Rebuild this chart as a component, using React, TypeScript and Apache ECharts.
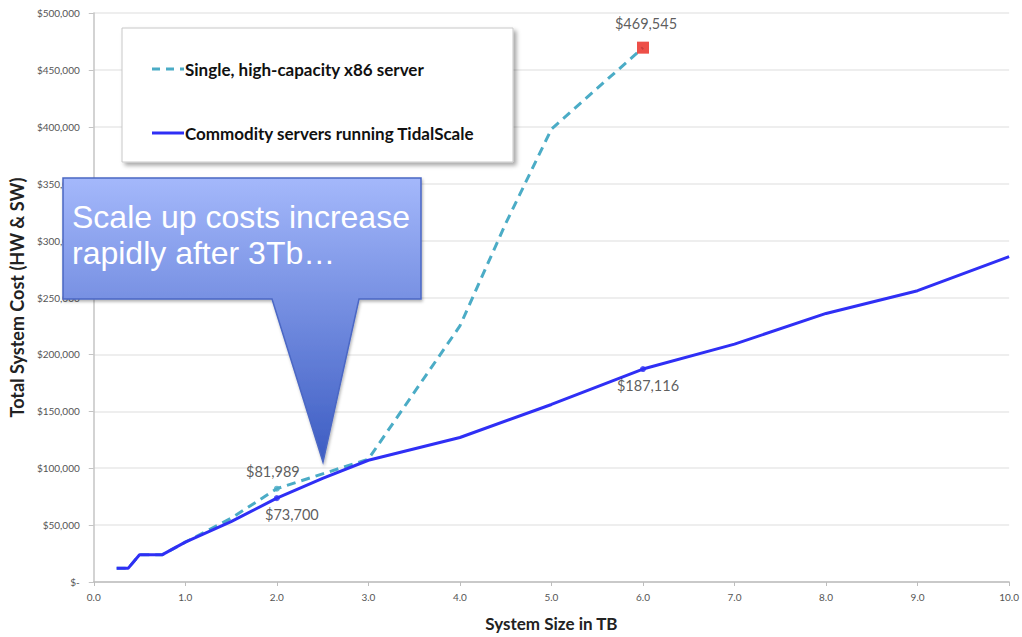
import React, { useEffect, useRef } from "react";
import * as echarts from "echarts";

// ---- Data ----
const yTickValues = [0, 50000, 100000, 150000, 200000, 250000, 300000, 350000, 400000, 450000, 500000];

const singleName = "Single, high-capacity x86 server";
const commodityName = "Commodity servers running TidalScale";

const singleSizesTB = [0.25, 0.375, 0.5, 0.75, 1, 1.5, 2, 2.5, 3, 4, 4.5, 5, 6];
const singleCost = [12000, 12000, 24000, 24000, 35000, 56000, 81989, 95000, 108000, 225000, 315000, 398000, 469545];

const commoditySizesTB = [0.25, 0.375, 0.5, 0.75, 1, 1.5, 2, 2.5, 3, 4, 5, 6, 7, 8, 9, 10];
const commodityCost = [12000, 12000, 24000, 24000, 35000, 53000, 73700, 91000, 107000, 127000, 156000, 187116, 209000, 236000, 256000, 286000];

const singleLabelled = [2, 6];
const commodityLabelled = [2, 6];

const calloutText = "Scale up costs increase\nrapidly after 3Tb…";
const xAxisName = "System Size in TB";
const yAxisName = "Total System Cost (HW & SW)";

const singleColor = "#4bacc6";
const commodityColor = "#2f2ff5";

const money = (v: number) => (v === 0 ? "$-" : "$" + v.toLocaleString("en-US"));

export default function App() {
  const ref = useRef<HTMLDivElement>(null);

  useEffect(() => {
    if (!ref.current) return;
    const chart = echarts.init(ref.current, undefined, { renderer: "svg" });

    const singleData = singleSizesTB.map((x, i) => [x, singleCost[i]]);
    const commodityData = commoditySizesTB.map((x, i) => [x, commodityCost[i]]);

    const singleMarks = singleLabelled.map((x) => {
      const i = singleSizesTB.indexOf(x);
      const isLast = i === singleSizesTB.length - 1;
      return {
        value: [singleSizesTB[i], singleCost[i]],
        symbol: isLast ? "rect" : "circle",
        symbolSize: isLast ? 12 : 6,
        itemStyle: { color: isLast ? "#e8231a" : singleColor },
        label: {
          show: true,
          position: "top",
          distance: isLast ? 11 : 7,
          offset: isLast ? [3, 0] : [-4, 0],
        },
      };
    });

    const commMarks = commodityLabelled.map((x) => {
      const i = commoditySizesTB.indexOf(x);
      return {
        value: [commoditySizesTB[i], commodityCost[i]],
        symbol: "circle",
        symbolSize: 6,
        itemStyle: { color: commodityColor },
        label: {
          show: true,
          position: "bottom",
          distance: 6,
          offset: x === 2 ? [15, 0] : [5, 0],
        },
      };
    });

    const labelStyle = {
      color: "#333",
      fontSize: 14.5,
      fontFamily: "Lato",
      formatter: (p: any) => money(p.value[1]),
    };

    const legendText = (text: string, y: number) => ({
      type: "text",
      z: 6,
      style: {
        text,
        x: 185,
        y,
        fontFamily: "Lato",
        fontWeight: "bold",
        fontSize: 17,
        fill: "#111",
        verticalAlign: "middle",
      },
    });

    chart.setOption({
      animation: false,
      backgroundColor: "#fff",
      grid: { left: 92, right: 9, top: 13, bottom: 51, containLabel: false },
      xAxis: {
        type: "value",
        min: 0,
        max: 10,
        interval: 1,
        name: xAxisName,
        nameLocation: "middle",
        nameGap: 33,
        nameTextStyle: { fontFamily: "Lato", fontWeight: "bold", fontSize: 17, color: "#222" },
        axisLine: { show: true, lineStyle: { color: "#bdbdbd", width: 1.5 } },
        axisTick: { show: true, length: 4, lineStyle: { color: "#bdbdbd" } },
        axisLabel: {
          color: "#555",
          fontSize: 10,
          fontFamily: "Lato",
          margin: 10,
          formatter: (v: number) => v.toFixed(1),
        },
        splitLine: { show: false },
      },
      yAxis: {
        type: "value",
        min: 0,
        max: 500000,
        interval: 50000,
        name: yAxisName,
        nameLocation: "middle",
        nameGap: 66,
        nameTextStyle: { fontFamily: "Lato", fontWeight: "bold", fontSize: 18, color: "#222" },
        axisLine: { show: true, lineStyle: { color: "#c4c4c4", width: 1.5 } },
        axisTick: { show: true, length: 5, lineStyle: { color: "#c4c4c4" } },
        axisLabel: {
          color: "#555",
          fontSize: 10,
          fontFamily: "Lato",
          margin: 14,
          formatter: (v: number) => (yTickValues.includes(v) ? money(v) : ""),
        },
        splitLine: { show: true, lineStyle: { color: "#e8e8e8", width: 1.5 } },
      },
      series: [
        {
          name: singleName,
          type: "line",
          data: singleData,
          symbol: "none",
          z: 2,
          lineStyle: { color: singleColor, width: 3, type: [9, 6] },
          itemStyle: { color: singleColor },
        },
        {
          name: commodityName,
          type: "line",
          data: commodityData,
          symbol: "none",
          z: 3,
          lineStyle: { color: commodityColor, width: 3 },
          itemStyle: { color: commodityColor },
        },
        {
          name: "singleMarks",
          type: "scatter",
          data: singleMarks,
          z: 4,
          label: labelStyle,
        },
        {
          name: "commodityMarks",
          type: "scatter",
          data: commMarks,
          z: 4,
          label: labelStyle,
        },
      ],
      graphic: [
        {
          type: "rect",
          z: 5,
          shape: { x: 122, y: 28, width: 391, height: 134 },
          style: {
            fill: "#fff",
            stroke: "#c8c8c8",
            lineWidth: 1,
            shadowBlur: 4,
            shadowOffsetX: 3,
            shadowOffsetY: 3,
            shadowColor: "rgba(0,0,0,0.35)",
          },
        },
        {
          type: "line",
          z: 6,
          shape: { x1: 152, y1: 69, x2: 184, y2: 69 },
          style: { stroke: singleColor, lineWidth: 3, lineDash: [8, 6] },
        },
        legendText(singleName, 69),
        {
          type: "line",
          z: 6,
          shape: { x1: 152, y1: 133, x2: 184, y2: 133 },
          style: { stroke: commodityColor, lineWidth: 3 },
        },
        legendText(commodityName, 133),
        {
          type: "polygon",
          z: 20,
          shape: {
            points: [
              [63, 178],
              [421, 178],
              [421, 299],
              [359, 299],
              [323, 462],
              [272, 299],
              [63, 299],
            ],
          },
          style: {
            fill: new echarts.graphic.LinearGradient(0, 0, 0, 1, [
              { offset: 0, color: "#a4b8fb" },
              { offset: 1, color: "#3c5cc2" },
            ]),
            stroke: "#4b67c4",
            lineWidth: 1.5,
            shadowBlur: 3,
            shadowOffsetX: 1,
            shadowOffsetY: 2,
            shadowColor: "rgba(0,0,0,0.3)",
          },
        },
        {
          type: "text",
          z: 21,
          style: {
            text: calloutText,
            x: 72,
            y: 199,
            fontSize: 32,
            fontFamily: "Liberation Sans",
            lineHeight: 36,
            fill: "#ffffff",
            verticalAlign: "top",
          },
        },
      ],
    });

    return () => chart.dispose();
  }, []);

  return (
    <div
      ref={ref}
      style={{ position: "fixed", left: 0, top: 0, width: 1022, height: 637, background: "#fff" }}
    />
  );
}
